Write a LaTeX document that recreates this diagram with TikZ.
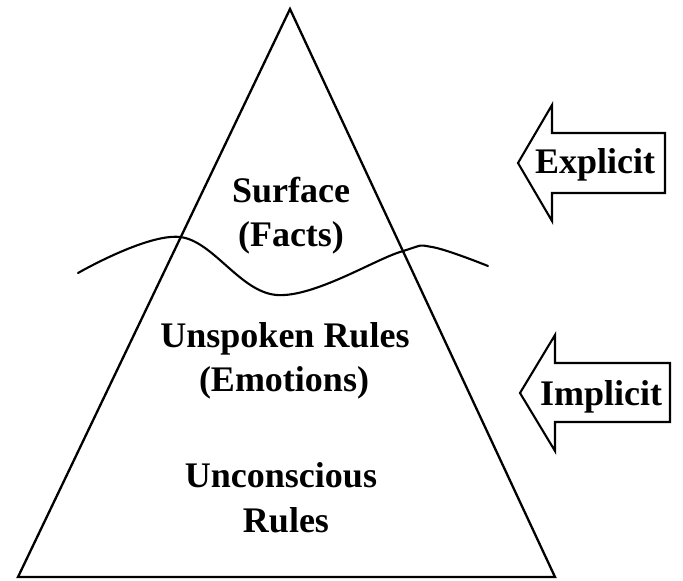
\documentclass[tikz,border=0pt]{standalone}
\usepackage{fontspec}
\setmainfont{Liberation Serif}
\begin{document}
\begin{tikzpicture}[x=1pt,y=-1pt,
  lbl/.style={font=\fontsize{36}{40}\selectfont\bfseries, anchor=base, inner sep=0pt},
  tri/.style={line width=2.3pt, line join=miter},
  wave/.style={line width=2.1pt, line cap=round},
  arrowbox/.style={line width=2.1pt, line join=miter}]
\useasboundingbox (0,0) rectangle (683,581);
% pyramid
\coordinate (apex) at (290,9);
\coordinate (bl) at (18,577);
\coordinate (br) at (555,577);
\draw[tri] (apex) -- (bl) -- (br) -- cycle;
% water line
\draw[wave] plot[smooth,tension=0.6] coordinates {(78,273) (180,237) (277,295) (400,252) (432,247) (488,266)};
% labels
\node[lbl] (surf) at (291,202) {Surface};
\node[lbl] (facts) at (291,246) {(Facts)};
\node[lbl] (unsp) at (285,347) {Unspoken Rules};
\node[lbl] (emo) at (284,391) {(Emotions)};
\node[lbl] (uncon) at (281,487) {Unconscious};
\node[lbl] (rules) at (286,532) {Rules};
% explicit arrow
\draw[arrowbox] (518,163) -- (552,105) -- (552,133) -- (665,133) -- (665,193) -- (552,193) -- (552,221) -- cycle;
\node[lbl] (expl) at (595,173) {Explicit};
% implicit arrow
\draw[arrowbox] (520,393) -- (555,335) -- (555,363) -- (670,363) -- (670,422) -- (555,422) -- (555,451) -- cycle;
\node[lbl] (impl) at (601,405) {Implicit};
\end{tikzpicture}
\end{document}
